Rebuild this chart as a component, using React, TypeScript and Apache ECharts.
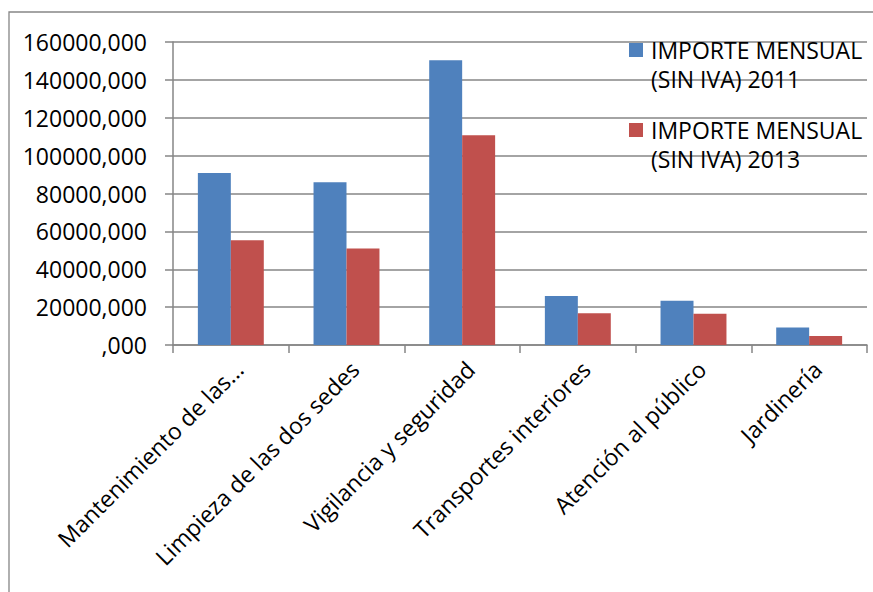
import React, { useEffect, useRef } from "react";
import * as echarts from "echarts";

const categories = [
  "Mantenimiento de las...",
  "Limpieza de las dos sedes",
  "Vigilancia y seguridad",
  "Transportes interiores",
  "Atención al público",
  "Jardinería",
];
const seriesNames = ["IMPORTE MENSUAL\n(SIN IVA) 2011", "IMPORTE MENSUAL\n(SIN IVA) 2013"];
const values2011 = [90800, 85900, 150300, 25900, 23400, 9300];
const values2013 = [55300, 51000, 110700, 16700, 16500, 4700];
const yMin = 0;
const yMax = 160000;
const yStep = 20000;

const FONT = "Open Sans";
const GRID = "#868686";

export default function App() {
  const ref = useRef<HTMLDivElement>(null);
  useEffect(() => {
    if (!ref.current) return;
    const chart = echarts.init(ref.current, null, { renderer: "svg" });
    const legendIcon = "path://M0,0.5H1V1.5H0Z M0,0L0.001,0L0,0.001Z M0,4L0.001,4L0,3.999Z";
    chart.setOption({
      animation: false,
      textStyle: { fontFamily: FONT },
      graphic: [
        {
          type: "rect",
          shape: { x: 9, y: 12, width: 1000, height: 800 },
          style: { fill: "none", stroke: GRID, lineWidth: 1.3 },
          silent: true,
        },
      ],
      grid: { left: 173, right: 6, top: 42, bottom: 247, containLabel: false },
      legend: {
        orient: "vertical",
        left: 629,
        top: 35,
        padding: 0,
        itemWidth: 14,
        itemHeight: 58,
        itemGap: 22,
        icon: legendIcon,
        textStyle: {
          fontFamily: FONT,
          fontSize: 23,
          color: "#000",
          lineHeight: 29,
          padding: [0, 0, 0, 3],
        },
        data: seriesNames.map((n) => ({ name: n, icon: legendIcon })),
      },
      xAxis: {
        type: "category",
        data: categories,
        axisLine: { show: true, lineStyle: { color: GRID, width: 1.5 } },
        axisTick: { show: true, length: 8, alignWithLabel: false, lineStyle: { color: GRID, width: 1.5 } },
        axisLabel: {
          interval: 0,
          rotate: 45,
          margin: 12,
          verticalAlign: "top",
          fontFamily: FONT,
          fontSize: 23,
          color: "#000",
        },
      },
      yAxis: {
        type: "value",
        min: yMin,
        max: yMax,
        interval: yStep,
        axisLine: { show: true, lineStyle: { color: GRID, width: 1.5 } },
        axisTick: { show: true, length: 8, lineStyle: { color: GRID, width: 1.5 } },
        splitLine: { show: true, lineStyle: { color: GRID, width: 1.5 } },
        axisLabel: {
          margin: 26,
          fontFamily: FONT,
          fontSize: 23,
          color: "#000",
          formatter: (v: number) => (v === 0 ? "" : String(v)) + ",000",
        },
      },
      series: [
        {
          name: seriesNames[0],
          type: "bar",
          data: values2011,
          itemStyle: { color: "#4F81BD" },
          barGap: "0%",
          barCategoryGap: "43%",
        },
        {
          name: seriesNames[1],
          type: "bar",
          data: values2013,
          itemStyle: { color: "#C0504D" },
          barGap: "0%",
          barCategoryGap: "43%",
        },
      ],
    });
    return () => chart.dispose();
  }, []);
  return (
    <div
      ref={ref}
      style={{ position: "absolute", left: 0, top: 0, width: 873, height: 592, background: "#fff" }}
    />
  );
}
